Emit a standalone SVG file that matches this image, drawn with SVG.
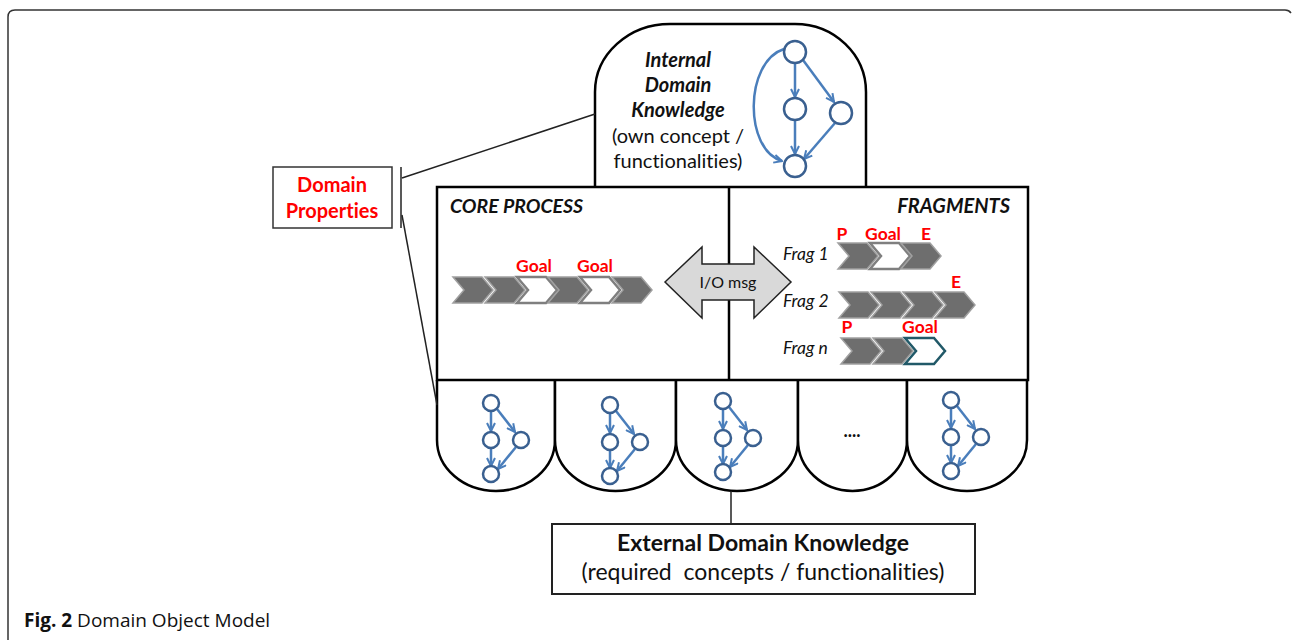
<svg xmlns="http://www.w3.org/2000/svg" width="1292" height="640" viewBox="0 0 1292 640">
<style>
.frame{fill:none;stroke:#333;stroke-width:1.5}
.shape{fill:#fff;stroke:#000;stroke-width:2.5}
.t{font-family:Lato,"Open Sans","Liberation Sans",sans-serif;fill:#111;font-variant-ligatures:none;font-feature-settings:"liga" 0}
.bi{font-weight:bold;font-style:italic}
.red{fill:#ff0000;font-weight:bold}
.cg{fill:#6e6e6e;stroke:#a0a0a0;stroke-width:1.5}
.cw{fill:#fff;stroke:#7f7f7f;stroke-width:2.5}
.ct{fill:#fff;stroke:#215968;stroke-width:2.5}
.node{fill:#fff;stroke:#3a6090;stroke-width:2.5}
.edge{fill:none;stroke:#4a7ebb;stroke-width:2.5;marker-end:url(#arr)}
.conn{fill:none;stroke:#222;stroke-width:1.5}
</style>
<defs>
<marker id="arr" viewBox="0 0 10 10" refX="9" refY="5" markerWidth="4" markerHeight="4" orient="auto" markerUnits="strokeWidth">
<path d="M1,1 L9,5 L1,9" fill="none" stroke="#4a7ebb" stroke-width="2"/>
</marker>
<path id="chev" d="M0,0 H29 L40,13 L29,26 H0 L11,13 Z"/>
<g id="mini">
<line class="edge" x1="0" y1="8" x2="0" y2="28"/>
<line class="edge" x1="6" y1="6" x2="24" y2="29"/>
<line class="edge" x1="0" y1="45" x2="0" y2="63"/>
<line class="edge" x1="25" y1="44" x2="7" y2="66"/>
<circle class="node" cx="0" cy="0" r="8"/>
<circle class="node" cx="0" cy="37" r="8"/>
<circle class="node" cx="30" cy="37" r="8"/>
<circle class="node" cx="0" cy="71" r="8"/>
</g>
</defs>
<rect width="1292" height="640" fill="#fff"/>
<path class="frame" d="M8,640 V17 Q8,10 15,10 H1285 Q1289,10 1291,13"/>

<g id="internal">
<path class="shape" d="M595,187 V92 A75,68 0 0 1 670,24 H795 A71,68 0 0 1 866,92 V187"/>
<text class="t bi" x="678" y="67" font-size="20" text-anchor="middle">Internal</text>
<text class="t bi" x="678" y="92" font-size="20" text-anchor="middle">Domain</text>
<text class="t bi" x="678" y="117" font-size="20" text-anchor="middle">Knowledge</text>
<text class="t" x="678" y="143" font-size="20" text-anchor="middle">(own concept /</text>
<text class="t" x="678" y="168" font-size="20" text-anchor="middle">functionalities)</text>
<path class="edge" d="M784,49 C744,62 744,150 782,161"/>
<line class="edge" x1="795" y1="63" x2="795" y2="97"/>
<line class="edge" x1="803" y1="60" x2="834" y2="102"/>
<line class="edge" x1="795" y1="120" x2="795" y2="154"/>
<line class="edge" x1="835" y1="123" x2="804" y2="159"/>
<circle class="node" cx="795" cy="52" r="11"/>
<circle class="node" cx="795" cy="109" r="11"/>
<circle class="node" cx="841" cy="113" r="11"/>
<circle class="node" cx="795" cy="166" r="11"/>
</g>

<g id="ext-domes">
<path class="shape" d="M437,380 V440 A59,51 0 0 0 555,440 V380"/>
<path class="shape" d="M555,380 V440 A60.5,51 0 0 0 676,440 V380"/>
<path class="shape" d="M676,380 V440 A61,51 0 0 0 798,440 V380"/>
<path class="shape" d="M798,380 V440 A54.5,51 0 0 0 907,440 V380"/>
<path class="shape" d="M907,380 V440 A60,51 0 0 0 1027,440 V380"/>
<use href="#mini" x="491" y="403"/>
<use href="#mini" x="610" y="405"/>
<use href="#mini" x="723" y="401"/>
<text class="t" x="852" y="437" font-size="18" font-weight="bold" text-anchor="middle">....</text>
<use href="#mini" x="951" y="400"/>
</g>

<g id="main">
<rect class="shape" x="437" y="187" width="591" height="193"/>
<line x1="729" y1="187" x2="729" y2="380" stroke="#000" stroke-width="2.5"/>
</g>

<g id="core">
<text class="t bi" x="450" y="213" font-size="19.5">CORE PROCESS</text>
<use href="#chev" class="cg" x="453" y="277"/>
<use href="#chev" class="cg" x="485" y="277"/>
<use href="#chev" class="cw" x="517" y="277"/>
<use href="#chev" class="cg" x="548" y="277"/>
<use href="#chev" class="cw" x="580" y="277"/>
<use href="#chev" class="cg" x="612" y="277"/>
<text class="t red" x="534" y="272" font-size="17.5" text-anchor="middle">Goal</text>
<text class="t red" x="595" y="272" font-size="17.5" text-anchor="middle">Goal</text>
</g>

<g id="fragments">
<text class="t bi" x="1010" y="213" font-size="20" text-anchor="end">FRAGMENTS</text>
<text class="t" x="783" y="260" font-size="17.5" font-style="italic">Frag 1</text>
<text class="t" x="783" y="307" font-size="17.5" font-style="italic">Frag 2</text>
<text class="t" x="783" y="354" font-size="17.5" font-style="italic">Frag n</text>
<use href="#chev" class="cg" x="838" y="243"/>
<use href="#chev" class="cw" x="870" y="243"/>
<use href="#chev" class="cg" x="901" y="243"/>
<text class="t red" x="842" y="240" font-size="17.5" text-anchor="middle">P</text>
<text class="t red" x="883" y="240" font-size="17.5" text-anchor="middle">Goal</text>
<text class="t red" x="926" y="240" font-size="17.5" text-anchor="middle">E</text>
<use href="#chev" class="cg" x="839" y="292"/>
<use href="#chev" class="cg" x="871" y="292"/>
<use href="#chev" class="cg" x="903" y="292"/>
<use href="#chev" class="cg" x="935" y="292"/>
<text class="t red" x="956" y="288" font-size="17.5" text-anchor="middle">E</text>
<use href="#chev" class="cg" x="841" y="338"/>
<use href="#chev" class="cg" x="873" y="338"/>
<use href="#chev" class="ct" x="905" y="338"/>
<text class="t red" x="847" y="333" font-size="17.5" text-anchor="middle">P</text>
<text class="t red" x="920" y="333" font-size="17.5" text-anchor="middle">Goal</text>
</g>

<g id="io-msg">
<polygon points="665,282 702,247 702,264 754,264 754,247 791,282 754,318 754,300 702,300 702,318" fill="#d9d9d9" stroke="#222" stroke-width="1.5"/>
<text class="t" x="728" y="288" font-size="16" text-anchor="middle">I/O msg</text>
</g>

<g id="domain-properties">
<rect x="273" y="167" width="119" height="61" fill="#fff" stroke="#333" stroke-width="1.5"/>
<text class="t red" x="332" y="192" font-size="20" text-anchor="middle">Domain</text>
<text class="t red" x="332" y="218" font-size="20" text-anchor="middle">Properties</text>
</g>

<g id="external">
<rect x="552" y="524" width="423" height="70" fill="#fff" stroke="#222" stroke-width="2"/>
<text class="t" x="763" y="551" font-size="23" font-weight="bold" text-anchor="middle">External Domain Knowledge</text>
<text class="t" x="763" y="580" font-size="23" text-anchor="middle" xml:space="preserve">(required  concepts / functionalities)</text>
</g>

<g id="connectors">
<line class="conn" x1="401" y1="167" x2="401" y2="228" stroke-width="2"/>
<line class="conn" x1="402" y1="178" x2="595" y2="114"/>
<line class="conn" x1="402" y1="215" x2="437" y2="405"/>
<line class="conn" x1="731" y1="491" x2="731" y2="524"/>
</g>

<g id="caption">
<text x="24" y="627" font-family="'Open Sans','Liberation Sans',sans-serif" font-size="19" fill="#111"><tspan font-weight="bold">Fig. 2</tspan> Domain Object Model</text>
</g>
</svg>
